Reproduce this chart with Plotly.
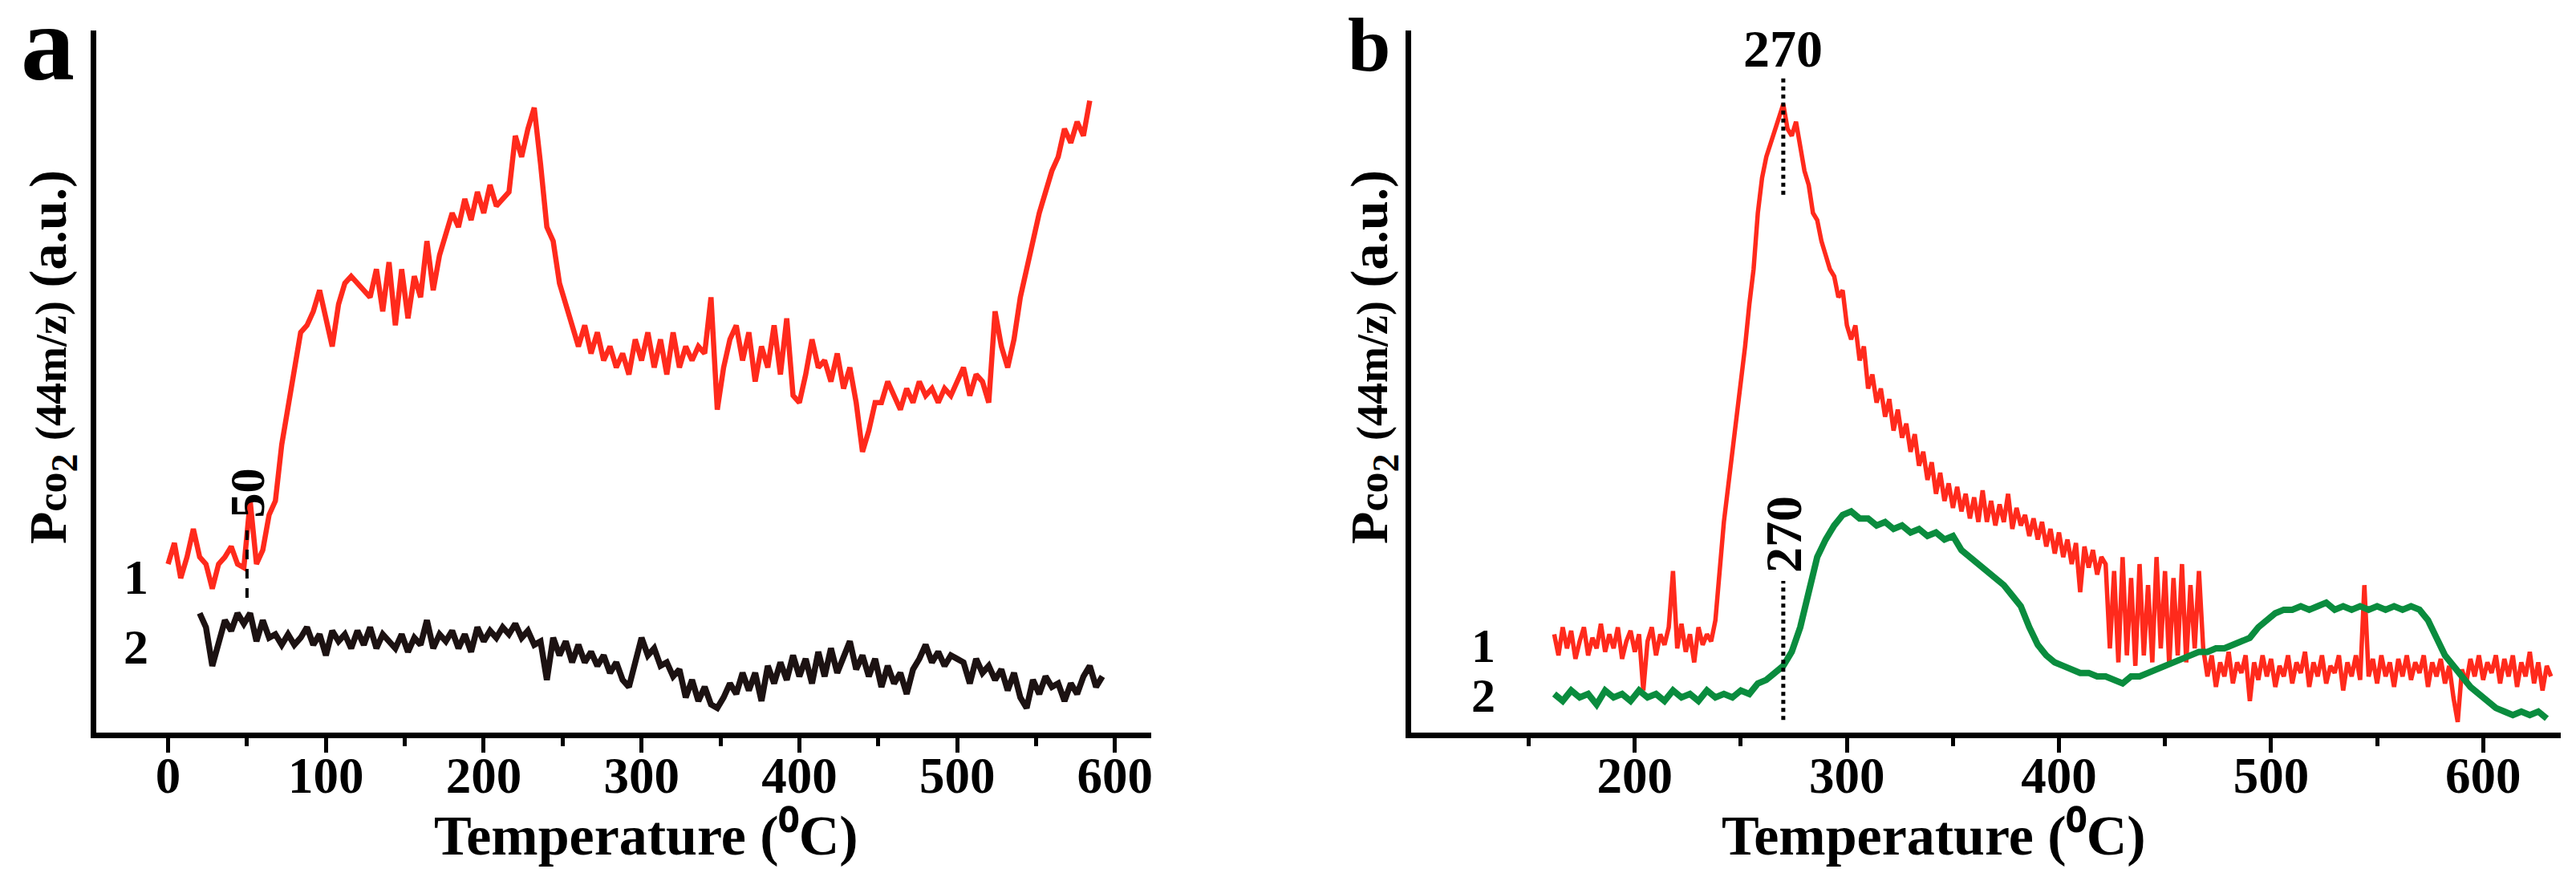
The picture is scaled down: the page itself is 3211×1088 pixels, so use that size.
import plotly.graph_objects as go

W, H = 3211, 1088
FONT = "Liberation Serif"

# ---------------- data ----------------
# panel a, curve 1 (red): temperature start / step, values (a.u.)
A1_START, A1_STEP = 0, 4
A1_VALS = [24, 27, 22, 25, 29, 25, 24, 20.5, 24, 25, 26.5, 24, 23.5, 33, 24, 26, 31, 33, 41, 46,
           52, 57, 58, 60, 63, 59, 55, 61, 64, 65, 64, 63, 62, 66, 60, 67, 58, 66, 59, 65,
           62, 70, 63, 68, 71, 74, 72, 76, 73, 77, 74, 78, 75, 76, 77, 85, 82, 86, 89, 81,
           72, 70, 64, 61, 58, 55, 58, 54, 57, 53, 55, 52, 54, 51, 56, 53, 57, 52, 56, 51,
           57, 52, 55, 53, 55, 54, 62, 46, 52, 56, 58, 53, 57, 50, 55, 52, 58, 51, 59, 48,
           47, 51, 56, 52, 53, 50, 54, 49, 52, 47, 40, 43, 47, 47, 50, 48, 46, 49, 47, 50,
           48, 49, 47, 49, 48, 50, 52, 48, 51, 50, 47, 60, 55, 52, 56, 62, 66, 70, 74, 77,
           80, 82, 86, 84, 87, 85, 90]
# panel a, curve 2 (black)
A2_START, A2_STEP = 20, 4
A2_VALS = [17, 15, 9.5, 13, 16, 14.5, 17, 15.5, 17, 13, 16, 13.5, 14, 12.5, 14, 12.5, 13.5, 15, 12.5, 14,
           11, 14.5, 13, 14, 12, 14.5, 12.5, 15, 12, 14, 13, 12, 14, 11.5, 13.5, 12.5, 16, 12, 14, 13,
           14.5, 12, 14, 11.5, 15, 13, 14.5, 13.5, 15, 14, 15.5, 13.5, 14.5, 12.5, 13, 7.5, 13.5, 11, 13, 10,
           12.5, 10, 11.5, 9.5, 11, 8.5, 10, 7.5, 6.5, 10, 13.5, 11, 12, 9.5, 10, 8, 9, 5, 7.5, 4.5,
           6.5, 4, 3.5, 5, 7, 5.5, 8.5, 6, 8.5, 4.5, 9.5, 7, 10, 7.5, 11, 8, 10.5, 7, 11.5, 8,
           12, 8.5, 11, 13, 9, 11, 8, 10.5, 6.5, 9.5, 7, 8.5, 5.5, 9, 10.5, 12.5, 10, 11.5, 9.5, 11,
           10.5, 10, 7, 10.5, 8.5, 9.5, 7.5, 9, 6, 8.5, 5, 3.5, 7.5, 5.5, 8, 6.5, 7, 4.5, 7, 5.5,
           8, 9.5, 6.5, 8]
# panel b, curve 1 (red)
B1_START, B1_STEP = 162, 2
B1_VALS = [14, 11, 15, 12, 14.5, 10.5, 13, 15, 11, 13.5, 12, 15.5, 11.5, 14, 12, 15, 10.5, 13, 14.5, 11.5,
           14, 6, 13, 15, 11, 14, 12.5, 15, 23, 12, 15.5, 11.5, 14, 10, 15, 12.5, 14, 13,
           16, 24, 30, 35, 40, 45, 49, 55, 61, 66, 74, 79, 82, 84, 86, 88, 89.5, 86, 85, 87,
           83, 80, 78, 74, 73, 70, 68, 66, 65, 62, 63, 58,
           56, 58, 53, 55, 49, 51, 47, 49, 45, 47.5, 43, 46, 42, 44, 40, 42.5, 38, 40, 36, 38.5,
           34, 37, 33, 35.5, 32, 35, 31.5, 34, 30.5, 33.5, 30, 34.5, 30, 33, 29.5, 32.5, 30, 34, 29, 32,
           29.5, 31, 28, 30.5, 27.5, 30, 26.5, 29, 25.5, 28.5, 25, 27.5, 24, 27, 20, 26.5, 23.5, 26, 22.5, 25,
           24, 12, 23, 10, 25, 11, 22, 9.5, 24, 11, 21, 10, 25, 12, 23, 9.5, 22, 11, 24, 10,
           21, 12, 23,
           12, 8, 11, 6.5, 10, 8, 11.5, 7, 10, 8.5, 11, 4.5, 10, 7.5, 11, 8, 10.5, 6.5, 9.5, 8,
           11, 7, 10, 8.5, 11.5, 6.5, 10, 8, 11, 7, 9.5, 8.5, 11, 6, 10, 8, 11, 7.5, 21, 8,
           10.5, 7, 11, 8, 10, 6.5, 10.5, 8, 11, 7.5, 10, 8.5, 11, 6.5, 10, 8, 10.5, 7, 9.5, 5,
           1.5, 9, 7, 10.5, 8, 11, 7.5, 10, 8.5, 11, 7, 10.5, 8, 11, 6.5, 10, 8, 11.5, 7, 10,
           6, 9.5, 8]
# panel b, curve 2 (green)
B2_START, B2_STEP = 162, 4
B2_VALS = [5.5, 4.5, 6, 5, 5.5, 4, 6, 5, 5.5, 4.5, 6, 5, 5.5, 4.5, 6, 5, 5.5, 4.5, 6, 5,
           5.5, 5, 6, 5.5, 7, 7.5, 8.5, 9.5, 11.5, 15, 20, 25, 27.5, 29.5, 31, 31.5, 30.5, 30.5, 29.5, 30,
           29, 29.5, 28.5, 29, 28, 28.5, 27.5, 28, 26, 25, 24, 23, 22, 21, 19.5, 18, 15, 12.5, 11, 10,
           9.5, 9, 8.5, 8.5, 8, 8, 7.5, 7, 8, 8, 8.5, 9, 9.5, 10, 10.5, 11, 11.5, 11.5, 12, 12,
           12.5, 13, 13.5, 15, 16, 17, 17.5, 17.5, 18, 17.5, 18, 18.5, 17.5, 18, 17.5, 18, 17.5, 18, 17.5, 18,
           17.5, 18, 17.5, 16, 13.5, 11, 9.5, 8, 6.5, 5.5, 4.5, 3.5, 3, 2.5, 3, 2.5, 3, 2]

A_TICKS = [0, 100, 200, 300, 400, 500, 600]
A_MINOR = [50, 150, 250, 350, 450, 550]
B_TICKS = [200, 300, 400, 500, 600]
B_MINOR = [150, 250, 350, 450, 550]
A_RANGE = [-45.7, 623]
B_RANGE = [94.5, 636.6]
Y_RANGE = [0, 100]
MARK_A = 50
MARK_B = 270


def temps(start, step, vals):
    return [start + step * i for i in range(len(vals))]


RED = "#ff2a1c"
GREEN = "#0a8c3e"
BLACK = "#1c1212"

fig = go.Figure()
fig.add_trace(go.Scatter(x=temps(A1_START, A1_STEP, A1_VALS), y=A1_VALS, mode="lines",
                         line=dict(color=RED, width=6.5), xaxis="x", yaxis="y", showlegend=False))
fig.add_trace(go.Scatter(x=temps(A2_START, A2_STEP, A2_VALS), y=A2_VALS, mode="lines",
                         line=dict(color=BLACK, width=7.5), xaxis="x", yaxis="y", showlegend=False))
fig.add_trace(go.Scatter(x=temps(B1_START, B1_STEP, B1_VALS), y=B1_VALS, mode="lines",
                         line=dict(color=RED, width=5.5), xaxis="x2", yaxis="y2", showlegend=False))
fig.add_trace(go.Scatter(x=temps(B2_START, B2_STEP, B2_VALS), y=B2_VALS, mode="lines",
                         line=dict(color=GREEN, width=8), xaxis="x2", yaxis="y2", showlegend=False))


def px(x):
    return x / W


def py(y):
    return 1 - y / H


YDOM = [py(905), py(30)]
tickfont = dict(family=FONT, size=63, color="black", weight="bold")


def xaxis(domain, rng, ticks, minor, anchor):
    return dict(domain=domain, range=rng, anchor=anchor, showline=True, linewidth=7, linecolor="black",
                ticks="outside", ticklen=18, tickwidth=5, tickcolor="black", tickvals=ticks,
                ticktext=[str(t) for t in ticks], tickfont=tickfont, ticklabelstandoff=-26,
                minor=dict(tickvals=minor, ticks="outside", ticklen=10, tickwidth=5, tickcolor="black"),
                showgrid=False, zeroline=False, fixedrange=True)


def yaxis(anchor):
    return dict(domain=YDOM, range=Y_RANGE, anchor=anchor, showline=True, linewidth=7, linecolor="black",
                ticks="", showticklabels=False, showgrid=False, zeroline=False, fixedrange=True)


ann = []


def text(x, y, s, size, xref="paper", yref="paper", angle=0):
    ann.append(dict(x=x, y=y, xref=xref, yref=yref, text=s, showarrow=False, textangle=angle,
                    xanchor="center", yanchor="middle",
                    font=dict(family=FONT, size=size, color="black", weight="bold")))


ytitle = ("P<span style='font-size:52px'>co</span><sub>2</sub> "
          "<span style='font-size:54px'>(44m/z)</span> (a.u.)")
xtitle = "Temperature (\u2070C)"

text(px(52), py(46), "a", 134)
text(px(1700), py(48), "b", 96)
text(px(57), py(437), ytitle, 66, angle=-90)
text(px(1705), py(437), ytitle, 66, angle=-90)
text(px(798), py(1033), xtitle, 70)
text(px(2404), py(1033), xtitle, 70)
text(px(162), py(711), "1", 62)
text(px(162), py(798), "2", 62)
text(px(1842), py(797), "1", 60)
text(px(1842), py(859), "2", 60)
# peak markers
text(MARK_A, 34.1, "50", 62, xref="x", yref="y", angle=-90)
text(MARK_B, 28.2, "270", 64, xref="x2", yref="y2", angle=-90)
text(MARK_B, 97.4, "270", 66, xref="x2", yref="y2")

shapes = [
    dict(type="line", xref="x", yref="y", x0=MARK_A, x1=MARK_A, y0=19.2, y1=29.0,
         line=dict(color="black", width=4, dash="dash")),
    dict(type="line", xref="x2", yref="y2", x0=MARK_B, x1=MARK_B, y0=1.8, y1=21.6,
         line=dict(color="black", width=5, dash="dot")),
    dict(type="line", xref="x2", yref="y2", x0=MARK_B, x1=MARK_B, y0=76.6, y1=93.2,
         line=dict(color="black", width=5, dash="dot")),
]

fig.update_layout(
    width=W, height=H, margin=dict(l=0, r=0, t=0, b=0),
    paper_bgcolor="white", plot_bgcolor="white",
    xaxis=xaxis([px(111.7), px(1428)], A_RANGE, A_TICKS, A_MINOR, "y"),
    yaxis=yaxis("x"),
    xaxis2=xaxis([px(1752), px(3186)], B_RANGE, B_TICKS, B_MINOR, "y2"),
    yaxis2=yaxis("x2"),
    annotations=ann, shapes=shapes, showlegend=False,
)

fig.write_html("out.html")
